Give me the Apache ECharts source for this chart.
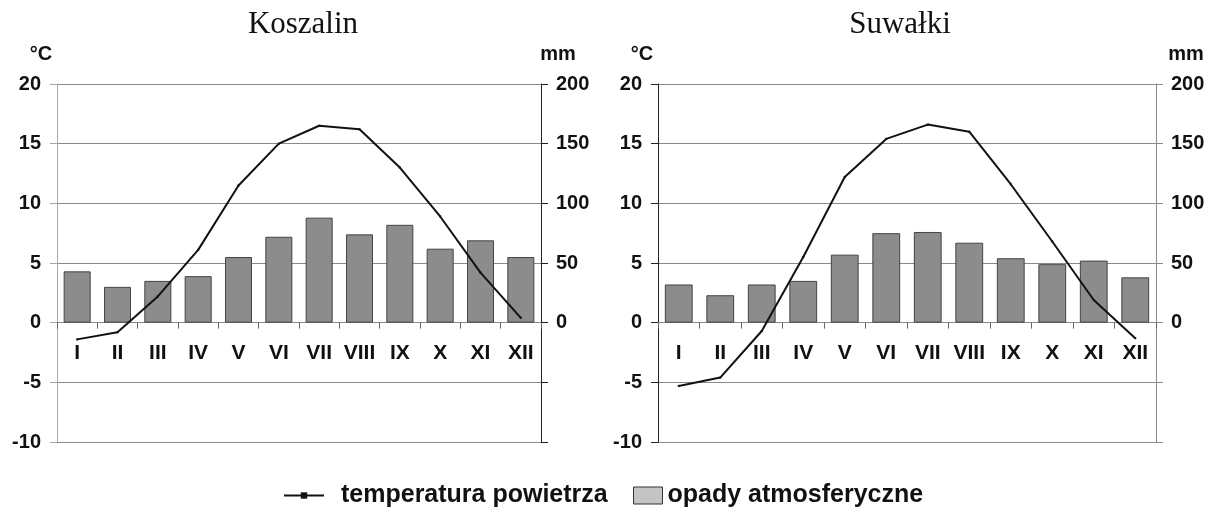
<!DOCTYPE html>
<html lang="pl">
<head>
<meta charset="UTF-8">
<title>Koszalin i Suwałki</title>
<script src="https://cdn.jsdelivr.net/npm/echarts@6/dist/echarts.min.js"></script>
<style>
  * { margin: 0; padding: 0; }
  #main { width: 1216px; height: 523px; }
</style>
</head>
<body>
<div id="main"></div>
<script>
  var months = ['I', 'II', 'III', 'IV', 'V', 'VI', 'VII', 'VIII', 'IX', 'X', 'XI', 'XII'];
  var koszalinTemp = [-1.4, -0.8, 2.2, 6.1, 11.5, 15.0, 16.5, 16.2, 13.0, 8.9, 4.2, 0.4];
  var koszalinOpady = [43, 30, 35, 39, 55, 72, 88, 74, 82, 62, 69, 55];
  var suwalkiTemp = [-5.3, -4.6, -0.7, 5.5, 12.2, 15.4, 16.6, 16.0, 11.6, 6.8, 1.9, -1.3];
  var suwalkiOpady = [32, 23, 32, 35, 57, 75, 76, 67, 54, 49, 52, 38];

  var sans = '"Liberation Sans", Arial, sans-serif';
  var chart = echarts.init(document.getElementById('main'));

  var gridTop = 84, gridBottom = 81, plotH = 523 - gridTop - gridBottom;
  // os miesiecy przesunieta na poziom 0 °C (skala -10..20)
  var zeroOffset = -plotH * 10 / 30;

  function tempAxis(grid, lineColor) {
    return {
      type: 'value', gridIndex: grid, position: 'left',
      min: -10, max: 20, interval: 5,
      name: '°C', nameLocation: 'end', nameGap: 20,
      nameTextStyle: { color: '#111', fontSize: 20, fontWeight: 'bold', fontFamily: sans, padding: [0, 32, 0, 0] },
      axisLine: { show: true, lineStyle: { color: lineColor, width: 1 } },
      axisTick: { show: true, length: 7, lineStyle: { color: lineColor } },
      axisLabel: { color: '#111', fontSize: 20, fontWeight: 'bold', fontFamily: sans, margin: 16 },
      splitLine: { show: true, lineStyle: { color: '#8a8a8a', width: 1 } }
    };
  }
  function rainAxis(grid, lineColor, namePad) {
    return {
      type: 'value', gridIndex: grid, position: 'right',
      min: -100, max: 200, interval: 50,
      name: 'mm', nameLocation: 'end', nameGap: 20,
      nameTextStyle: { color: '#111', fontSize: 20, fontWeight: 'bold', fontFamily: sans, padding: [0, 0, 0, namePad] },
      axisLine: { show: true, lineStyle: { color: lineColor, width: 1 } },
      axisTick: { show: true, length: 7, lineStyle: { color: lineColor } },
      axisLabel: {
        color: '#111', fontSize: 20, fontWeight: 'bold', fontFamily: sans, margin: 15,
        formatter: function (v) { return v < 0 ? '' : v; }
      },
      splitLine: { show: false }
    };
  }
  function monthAxis(grid) {
    return {
      type: 'category', gridIndex: grid, data: months,
      offset: zeroOffset,
      axisLine: { show: true, onZero: false, lineStyle: { color: '#8a8a8a' } },
      axisTick: { show: true, length: 6, lineStyle: { color: '#666' } },
      axisLabel: { color: '#111', fontSize: 21, fontWeight: 'bold', fontFamily: sans, margin: 20, interval: 0 },
      splitLine: { show: false }
    };
  }
  function barSeries(x, y, data) {
    return {
      name: 'opady atmosferyczne', type: 'bar', xAxisIndex: x, yAxisIndex: y,
      data: data, barCategoryGap: '33%',
      itemStyle: { color: '#8c8c8c', borderColor: '#444', borderWidth: 1 },
      z: 2
    };
  }
  function lineSeries(x, y, data) {
    return {
      name: 'temperatura powietrza', type: 'line', xAxisIndex: x, yAxisIndex: y,
      data: data, symbol: 'rect', symbolSize: 2,
      lineStyle: { color: '#111', width: 2 },
      itemStyle: { color: '#111' },
      z: 5
    };
  }

  var titleFont = { fontFamily: '"Liberation Serif", "Times New Roman", serif', fontWeight: 'normal', fontSize: 31, color: '#111' };

  chart.setOption({
    animation: false,
    backgroundColor: '#fff',
    title: [
      { text: 'Koszalin', left: 298, top: 4, textAlign: 'center', textStyle: titleFont },
      { text: 'Suwałki', left: 895, top: 4, textAlign: 'center', textStyle: titleFont }
    ],
    legend: [
      { data: ['temperatura powietrza'], left: 283, top: 483, padding: 0, itemWidth: 40, itemHeight: 8,
        textStyle: { fontSize: 25, fontWeight: 'bold', fontFamily: sans, color: '#111', padding: [0, 0, 0, 12] } },
      { data: [{ name: 'opady atmosferyczne', icon: 'rect', itemStyle: { color: '#c4c4c4', borderColor: '#333', borderWidth: 1 } }],
        left: 633, top: 483, padding: 0, itemWidth: 29, itemHeight: 17,
        textStyle: { fontSize: 25, fontWeight: 'bold', fontFamily: sans, color: '#111' } }
    ],
    grid: [
      { left: 57, right: 675, top: gridTop, bottom: gridBottom },
      { left: 658, right: 60, top: gridTop, bottom: gridBottom }
    ],
    xAxis: [monthAxis(0), monthAxis(1)],
    yAxis: [tempAxis(0, '#a8a8a8'), rainAxis(0, '#222', 34), tempAxis(1, '#222'), rainAxis(1, '#8a8a8a', 60)],
    series: [
      barSeries(0, 1, koszalinOpady),
      lineSeries(0, 0, koszalinTemp),
      barSeries(1, 3, suwalkiOpady),
      lineSeries(1, 2, suwalkiTemp)
    ]
  });
</script>
</body>
</html>
